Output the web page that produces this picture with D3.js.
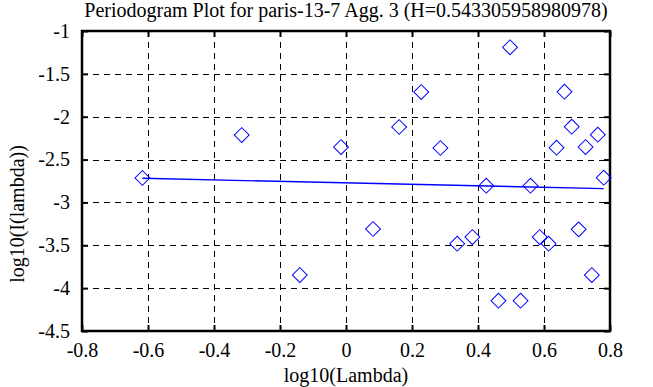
<!DOCTYPE html>
<html><head><meta charset="utf-8">
<script src="https://cdn.jsdelivr.net/npm/d3@7"></script>
<style>
body{margin:0;background:#fff;}
svg text{font-family:"Liberation Serif","Times New Roman",serif !important;fill:#000;}
</style></head>
<body><svg id="c" width="653" height="387"></svg>
<script>
const title = "Periodogram Plot for paris-13-7 Agg. 3 (H=0.543305958980978)";
const xLabel = "log10(Lambda)";
const yLabel = "log10(I(lambda))";
const logLambda = [-0.617,-0.316,-0.140,-0.015,0.082,0.161,0.228,0.286,0.337,0.383,0.425,0.462,0.497,0.529,0.559,0.587,0.614,0.638,0.662,0.684,0.705,0.726,0.745,0.763,0.781];
const logI = [-2.715,-2.214,-3.847,-2.354,-3.31,-2.12,-1.712,-2.365,-3.482,-3.404,-2.805,-4.147,-1.19,-4.147,-2.805,-3.404,-3.482,-2.362,-1.708,-2.117,-3.314,-2.354,-3.847,-2.21,-2.712];
const fitX = [-0.617, 0.781];
const fitY = [-2.718, -2.839];
const xTicks = [-0.8,-0.6,-0.4,-0.2,0,0.2,0.4,0.6,0.8];
const yTicks = [-1,-1.5,-2,-2.5,-3,-3.5,-4,-4.5];

const L=82,R=610,T=31,B=331;
const svg=d3.select("#c");
const x=d3.scaleLinear().domain([-0.8,0.8]).range([L,R]);
const y=d3.scaleLinear().domain([-4.5,-1]).range([B,T]);
const fmt=d=>String(d);
const FS=20;

// grid
const g=svg.append("g");
g.selectAll(".vg").data(xTicks.slice(1,-1)).join("line")
 .attr("x1",d=>Math.round(x(d))+0.5).attr("x2",d=>Math.round(x(d))+0.5)
 .attr("y1",T).attr("y2",B).attr("stroke","#000").attr("stroke-width",1).attr("stroke-dasharray","6,5");
g.selectAll(".hg").data(yTicks.slice(1,-1)).join("line")
 .attr("y1",d=>Math.round(y(d))+0.5).attr("y2",d=>Math.round(y(d))+0.5)
 .attr("x1",L).attr("x2",R).attr("stroke","#000").attr("stroke-width",1).attr("stroke-dasharray","6,5");

// axes with inner ticks
const ax=d3.axisBottom(x).tickValues(xTicks).tickFormat(fmt).tickSize(-6).tickPadding(12);
const ay=d3.axisLeft(y).tickValues(yTicks).tickFormat(fmt).tickSize(-6).tickPadding(12);
const axT=d3.axisTop(x).tickValues(xTicks).tickFormat("").tickSize(-6);
const ayR=d3.axisRight(y).tickValues(yTicks).tickFormat("").tickSize(-6);
function style(sel){sel.attr("font-family","Liberation Serif").attr("font-size",FS);sel.select(".domain").remove();sel.selectAll("line").attr("stroke","#000").attr("stroke-width",2);sel.selectAll("text").attr("font-size",FS).style("font-family","'Liberation Serif', serif");}
svg.append("g").attr("transform",`translate(0,${B})`).call(ax).call(style);
svg.append("g").attr("transform",`translate(${L},0)`).call(ay).call(style);
svg.append("g").attr("transform",`translate(0,${T})`).call(axT).call(style);
svg.append("g").attr("transform",`translate(${R},0)`).call(ayR).call(style);

// frame
svg.append("rect").attr("x",L).attr("y",T).attr("width",R-L).attr("height",B-T)
 .attr("fill","none").attr("stroke","#000").attr("stroke-width",2.5);

// fit line
svg.append("path").datum(fitX.map((v,i)=>[v,fitY[i]]))
 .attr("d",d3.line().x(d=>x(d[0])).y(d=>y(d[1])))
 .attr("stroke","#0000ff").attr("stroke-width",1.3).attr("fill","none");

// points (diamonds)
const sym=d3.symbol().type(d3.symbolSquare).size(110);
svg.selectAll(".pt").data(logLambda.map((v,i)=>[v,logI[i]])).join("path")
 .attr("d",sym).attr("transform",d=>`translate(${x(d[0])},${y(d[1])}) rotate(45)`)
 .attr("fill","none").attr("stroke","#0000ff").attr("stroke-width",1);

// labels
svg.append("text").attr("x",(L+R)/2).attr("y",17).attr("text-anchor","middle").attr("font-size",FS).text(title);
svg.append("text").attr("x",(L+R)/2).attr("y",382).attr("text-anchor","middle").attr("font-size",FS).text(xLabel);
svg.append("text").attr("transform",`translate(24,214) rotate(-90)`).attr("text-anchor","middle").attr("font-size",FS).text(yLabel);
</script></body></html>
